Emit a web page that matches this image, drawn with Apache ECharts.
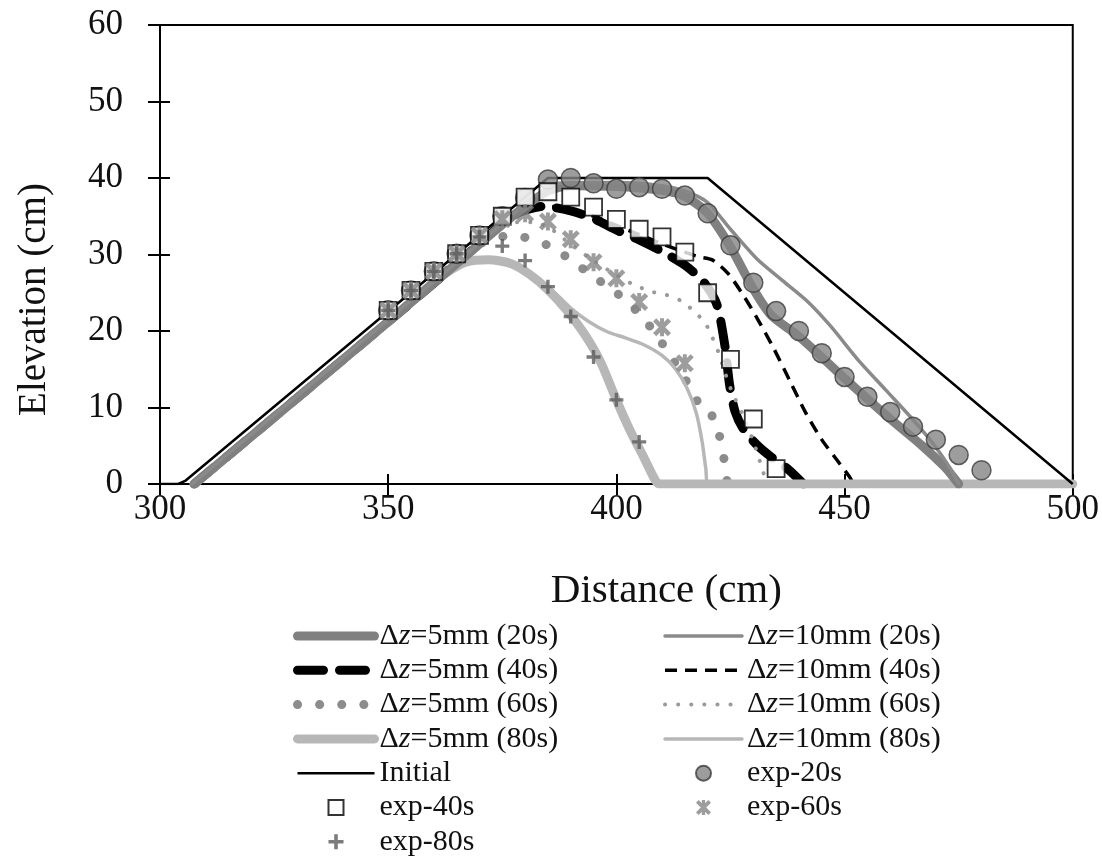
<!DOCTYPE html>
<html>
<head>
<meta charset="utf-8">
<script src="https://cdn.jsdelivr.net/npm/echarts@6/dist/echarts.min.js"></script>
<style>
  html, body { margin: 0; padding: 0; background: #fff; }
  #chart { width: 1102px; height: 858px; }
</style>
</head>
<body>
<div id="chart"></div>
<script>
// Axis ticks
const xTicks = [300, 350, 400, 450, 500];
const yTicks = [0, 10, 20, 30, 40, 50, 60];

// Initial dune profile [distance cm, elevation cm]
const initialProfile = [[300, 0], [304, 0], [305.5, 0.4], [385, 40], [420, 40], [500, 0]];

// Simulated profiles, grid size 5 mm
const dz5_20s = [[307.5, 0], [350, 21.2], [365, 28.8], [375, 33.9], [380, 36.3], [385, 38.3], [390, 39], [400, 38.9], [410, 38.4], [415, 37.6], [420, 35.4], [425, 31], [430, 25.5], [434, 22], [440, 19.3], [450, 13.8], [460, 8.5], [467, 5], [472, 2.2], [475, 0]];
const dz5_40s = [[307.5, 0], [350, 21.2], [365, 28.8], [372, 32.5], [378, 35.3], [384, 36.3], [390, 35.7], [395, 34.7], [400, 33.2], [405, 31.9], [410, 30.4], [415, 28.6], [419, 26.5], [422, 23.5], [423.8, 18], [424.8, 13], [426, 9.5], [428, 7], [431, 5], [434, 3.5], [437.5, 2], [441, 0]];
const dz5_60s = [[307.5, 0], [350, 21.2], [362, 27.5], [368, 30.6], [373, 32.2], [378, 32.4], [385, 31.2], [390, 29.3], [395, 27.1], [400, 25], [405, 22.3], [408.5, 19.7], [412, 16.6], [415, 13.8], [418, 10.6], [420.5, 9.4], [422.5, 6.5], [423.8, 2.5], [424.3, 0]];
const dz5_80s = [[307.5, 0], [350, 21.2], [358, 25.4], [363, 27.7], [367, 29], [372, 29.3], [377, 28.8], [381, 27.4], [385, 25.4], [389, 22.8], [393, 19.6], [396.5, 16], [400, 11], [403, 7], [406, 3.5], [408.5, 0.5], [409.5, 0], [500, 0]];

// Simulated profiles, grid size 10 mm
const dz10_20s = [[307, 0], [350, 21.5], [365, 29], [375, 34], [381, 37], [387, 39.3], [400, 39.4], [410, 39], [415, 38.3], [420, 36.8], [425, 33.3], [431, 29.3], [437, 26.3], [442, 23.8], [447, 20.6], [453, 16.2], [459, 12.3], [465, 8.4], [469.5, 5.2], [473, 2.2], [475, 0]];
const dz10_40s = [[307, 0], [350, 21.5], [365, 29], [372, 32.5], [379, 35.8], [385, 36.3], [390, 35.8], [395, 35], [400, 33.8], [405, 32.6], [410, 31.4], [415, 30.3], [418, 29.7], [421, 29.3], [424.5, 27.5], [428, 24.5], [431, 21.5], [434.5, 17.7], [438, 13.5], [441.5, 9.3], [445, 5.8], [448.5, 3], [451, 1], [452, 0]];
const dz10_60s = [[307, 0], [350, 21.5], [365, 29], [371, 32], [377, 34.2], [382, 34.2], [386, 33.2], [390, 31.3], [395, 29.2], [400, 27.3], [404, 26], [408, 25.1], [411, 24.7], [414, 24], [417, 22.6], [419.5, 21], [421, 19.2], [422.5, 17], [424, 14.2], [425.5, 11.8], [427.5, 9.3], [429.7, 6.1], [431, 3.8], [432.2, 1.5], [433, 0]];
const dz10_80s = [[307, 0], [350, 21.5], [358, 25.5], [363, 27.8], [368, 29.3], [373, 29.4], [378, 28.6], [382, 27.3], [386, 25.3], [390, 23], [394, 21.2], [398, 19.9], [402, 19.1], [406, 18.2], [410, 16.8], [413, 15], [415.5, 12.5], [417.5, 9.3], [418.8, 5.5], [419.6, 2], [420.2, 0], [500, 0]];

// Measured profiles
const exp20s = [[350, 22.7], [355, 25.3], [360, 27.8], [365, 30.1], [370, 32.5], [375, 35], [380, 37.4], [385, 39.8], [390, 40], [395, 39.3], [400, 38.6], [405, 38.8], [410, 38.6], [415, 37.7], [420, 35.4], [425, 31.2], [430, 26.3], [435, 22.6], [440, 20], [445, 17.1], [450, 14], [455, 11.4], [460, 9.4], [465, 7.5], [470, 5.8], [475, 3.8], [480, 1.8]];
const exp40s = [[350, 22.7], [355, 25.3], [360, 27.8], [365, 30.1], [370, 32.5], [375, 35], [380, 37.5], [385, 38.2], [390, 37.5], [395, 36.2], [400, 34.6], [405, 33.3], [410, 32.3], [415, 30.3], [420, 25], [425, 16.3], [430, 8.5], [435, 2]];
const exp60s = [[350, 22.7], [355, 25.3], [360, 27.8], [365, 30.1], [370, 32.5], [375, 34.6], [380, 35.4], [385, 34.3], [390, 32], [395, 29], [400, 26.9], [405, 23.8], [410, 20.5], [415, 15.8]];
const exp80s = [[350, 22.7], [355, 25.3], [360, 27.8], [365, 30.1], [370, 32.3], [375, 31.1], [380, 29.2], [385, 25.8], [390, 21.9], [395, 16.6], [400, 11], [405, 5.5]];

const SERIF = 'Liberation Serif';
const SQUARE = 'path://M0,0L10,0L10,10L0,10Z';
const ASTERISK = 'path://M0,1.8L1.8,0L10,8.2L8.2,10Z M8.2,0L10,1.8L1.8,10L0,8.2Z M3.9,0L6.1,0L6.1,10L3.9,10Z';
const PLUS = 'path://M3.8,0L6.2,0L6.2,3.8L10,3.8L10,6.2L6.2,6.2L6.2,10L3.8,10L3.8,6.2L0,6.2L0,3.8L3.8,3.8Z';

// Line look shared by the plot and the legend
const styles = {
  'Δz=5mm (20s)': { color: '#808080', width: 9, type: 'solid', cap: 'round' },
  'Δz=5mm (40s)': { color: '#000000', width: 9, type: [26, 16], cap: 'round' },
  'Δz=5mm (60s)': { color: '#8c8c8c', width: 9, type: [0.1, 22], cap: 'round' },
  'Δz=5mm (80s)': { color: '#b7b7b7', width: 9, type: 'solid', cap: 'round' },
  'Δz=10mm (20s)': { color: '#8a8a8a', width: 3.5, type: 'solid', cap: 'round' },
  'Δz=10mm (40s)': { color: '#000000', width: 3.5, type: [12, 8], cap: 'butt' },
  'Δz=10mm (60s)': { color: '#9a9a9a', width: 4, type: [0.1, 13], cap: 'round' },
  'Δz=10mm (80s)': { color: '#b7b7b7', width: 3.5, type: 'solid', cap: 'round' },
  'Initial': { color: '#000000', width: 2.5, type: 'solid', cap: 'butt' }
};

function lineSeries(name, data, z, smooth) {
  const s = styles[name];
  return {
    name, type: 'line', data, symbol: 'none', smooth: smooth,
    lineStyle: { color: s.color, width: s.width, type: s.type, cap: s.cap, join: 'round' },
    itemStyle: { color: s.color },
    z, silent: true, animation: false
  };
}
function scatterSeries(name, data, symbol, size, itemStyle, z) {
  return { name, type: 'scatter', data, symbol, symbolSize: size, itemStyle, z, silent: true, animation: false };
}

const series = [
  lineSeries('Δz=5mm (40s)', dz5_40s, 2, 0.25),
  lineSeries('Δz=10mm (40s)', dz10_40s, 2, 0.25),
  lineSeries('Δz=5mm (60s)', dz5_60s, 3, 0.25),
  lineSeries('Δz=10mm (60s)', dz10_60s, 3, 0.25),
  lineSeries('Δz=5mm (80s)', dz5_80s, 4, 0.25),
  lineSeries('Δz=10mm (80s)', dz10_80s, 4, 0.25),
  lineSeries('Δz=5mm (20s)', dz5_20s, 5, 0.25),
  lineSeries('Δz=10mm (20s)', dz10_20s, 5, 0.25),
  lineSeries('Initial', initialProfile, 6, false),
  scatterSeries('exp-20s', exp20s, 'circle', 19, { color: '#858585', borderColor: '#3c3c3c', borderWidth: 1.5 }, 7),
  scatterSeries('exp-40s', exp40s, SQUARE, 17, { color: '#ffffff', borderColor: '#000', borderWidth: 1.8 }, 8),
  scatterSeries('exp-60s', exp60s, ASTERISK, 18, { color: '#858585' }, 9),
  scatterSeries('exp-80s', exp80s, PLUS, 14, { color: '#5a5a5a' }, 10)
];

const legendText = {
  fontFamily: SERIF, fontSize: 30, color: '#111', lineHeight: 28,
  rich: {
    n: { fontFamily: SERIF, fontSize: 30, color: '#111', lineHeight: 28 },
    i: { fontFamily: SERIF, fontSize: 30, color: '#111', lineHeight: 28, fontStyle: 'italic' }
  }
};
function legendFormatter(name) {
  if (name.indexOf('Δz') === 0) return '{n|Δ}{i|z}{n|' + name.slice(2) + '}';
  return name;
}
function legendItem(name) {
  const s = styles[name];
  if (!s) return { name };
  return {
    name,
    itemStyle: { color: 'rgba(0,0,0,0)', borderWidth: 0, opacity: 0 },
    lineStyle: { color: s.color, width: s.width, type: s.type, cap: s.cap }
  };
}
function legendBlock(left, names) {
  return {
    orient: 'vertical', left, top: 621, padding: 0, itemWidth: 77, itemHeight: 15, itemGap: 4.3,
    selectedMode: false, textStyle: legendText, formatter: legendFormatter,
    data: names.map(legendItem)
  };
}

const axisText = { fontFamily: SERIF, fontSize: 35, color: '#111' };

const option = {
  backgroundColor: '#fff',
  animation: false,
  grid: { left: 160, right: 29, top: 25, bottom: 374, show: true, borderColor: '#000', borderWidth: 2, backgroundColor: 'transparent' },
  legend: [
    legendBlock(293, ['Δz=5mm (20s)', 'Δz=5mm (40s)', 'Δz=5mm (60s)', 'Δz=5mm (80s)', 'Initial', 'exp-40s', 'exp-80s']),
    legendBlock(663, ['Δz=10mm (20s)', 'Δz=10mm (40s)', 'Δz=10mm (60s)', 'Δz=10mm (80s)', 'exp-20s', 'exp-60s'])
  ],
  xAxis: [
    {
      type: 'value', position: 'bottom', min: xTicks[0], max: xTicks[xTicks.length - 1], interval: 50,
      name: 'Distance (cm)', nameLocation: 'middle', nameGap: 87,
      nameTextStyle: { fontFamily: SERIF, fontSize: 41, color: '#111', padding: [0, 0, 0, 100] },
      axisLine: { show: true, lineStyle: { color: '#000', width: 2 } },
      axisTick: { show: true, inside: false, length: 11, lineStyle: { color: '#000', width: 2 } },
      axisLabel: { ...axisText, margin: 8, formatter: v => String(v) },
      splitLine: { show: false }
    },
    {
      type: 'value', position: 'bottom', min: xTicks[0], max: xTicks[xTicks.length - 1], interval: 50,
      axisLine: { show: false }, axisLabel: { show: false }, splitLine: { show: false },
      axisTick: { show: true, inside: true, length: 10, lineStyle: { color: '#000', width: 2 } }
    }
  ],
  yAxis: [
    {
      type: 'value', position: 'left', min: yTicks[0], max: yTicks[yTicks.length - 1], interval: 10,
      name: 'Elevation (cm)', nameLocation: 'middle', nameGap: 106,
      nameTextStyle: { fontFamily: SERIF, fontSize: 39, color: '#111', padding: [0, 90, 0, 0] },
      axisLine: { show: true, lineStyle: { color: '#000', width: 2 } },
      axisTick: { show: true, inside: false, length: 12, lineStyle: { color: '#000', width: 2 } },
      axisLabel: { ...axisText, margin: 37, formatter: v => String(v) },
      splitLine: { show: false }
    },
    {
      type: 'value', position: 'left', min: yTicks[0], max: yTicks[yTicks.length - 1], interval: 10,
      axisLine: { show: false }, axisLabel: { show: false }, splitLine: { show: false },
      axisTick: { show: true, inside: true, length: 10, lineStyle: { color: '#000', width: 2 } }
    }
  ],
  series
};

const chart = echarts.init(document.getElementById('chart'), null, { renderer: 'canvas' });
chart.setOption(option);
</script>
</body>
</html>
